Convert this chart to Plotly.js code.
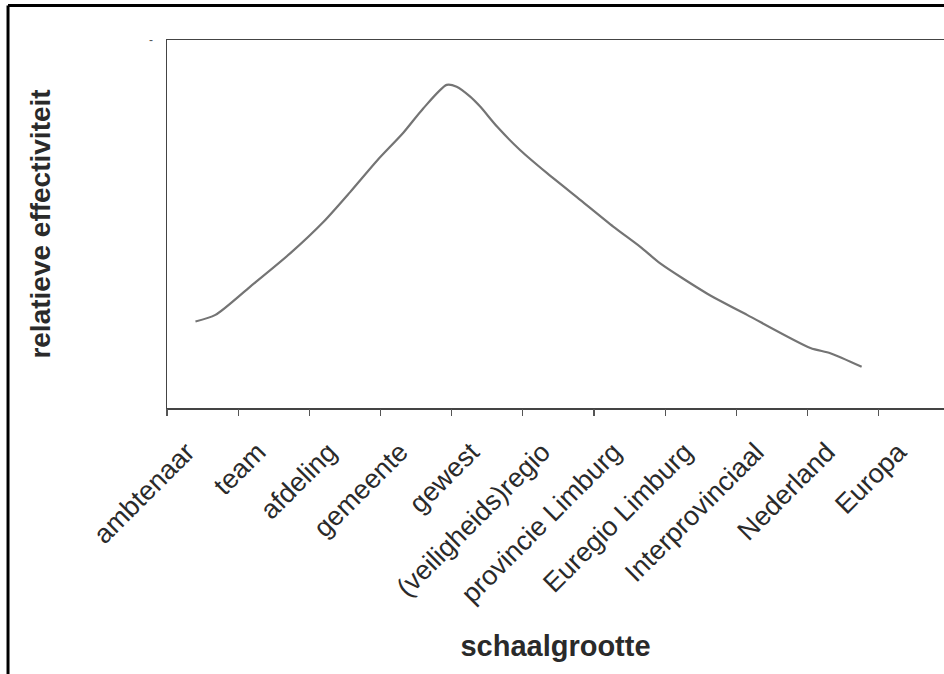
<!DOCTYPE html>
<html>
<head>
<meta charset="utf-8">
<script src="https://cdn.plot.ly/plotly-3.0.1.min.js"></script>
<style>
  html, body { margin: 0; padding: 0; background: #fff; }
  #chart { width: 944px; height: 674px; }
</style>
</head>
<body>
<div id="chart"></div>
<script>
// Category labels (x axis)
const categories = [
  "ambtenaar", "team", "afdeling", "gemeente", "gewest",
  "(veiligheids)regio", "provincie Limburg", "Euregio Limburg",
  "Interprovinciaal", "Nederland", "Europa"
];

// Curve (x in category units, y relative 0-100)
const curveX = [-0.10, 0.18, 0.67, 1.23, 1.70, 2.07, 2.45, 2.82, 3.10, 3.43, 3.57, 3.76, 3.90, 4.14, 4.46, 4.84, 5.31, 5.77, 6.15, 6.43, 7.08, 7.65, 8.54, 8.82, 9.26];
const curveY = [23.5, 25.3, 33.0, 42.0, 50.6, 58.6, 67.2, 74.8, 81.4, 87.8, 87.3, 84.6, 81.9, 76.4, 70.1, 63.8, 56.5, 49.3, 43.8, 39.3, 31.2, 25.3, 16.3, 14.9, 11.2];

const yTopLabel = ["-"];

const catIdx = categories.map((c, i) => i);
const boundaries = categories.map((c, i) => i - 0.5).concat([categories.length - 0.5]);
const xRange = [-0.5, 10.417];

const traces = [
  {
    x: curveX, y: curveY, type: "scatter", mode: "lines",
    line: { color: "#747474", width: 2.2, shape: "spline", smoothing: 0.7 },
    xaxis: "x", yaxis: "y", showlegend: false, hoverinfo: "skip"
  },
  {
    x: [null], y: [null], type: "scatter", mode: "lines",
    xaxis: "x2", yaxis: "y", showlegend: false, hoverinfo: "skip"
  }
];

const fontFam = "Liberation Sans, Arial, sans-serif";

const layout = {
  width: 944, height: 674,
  margin: { l: 167, r: 0, t: 40, b: 266, pad: 0 },
  paper_bgcolor: "#ffffff", plot_bgcolor: "#ffffff",
  showlegend: false,
  font: { family: fontFam, color: "#2a2a2a" },
  xaxis: {
    range: xRange, autorange: false,
    tickmode: "array", tickvals: catIdx, ticktext: categories,
    ticks: "", tickangle: -45, ticklabelstandoff: 16, ticklabelshift: -16,
    tickfont: { family: fontFam, size: 27, color: "#2a2a2a" },
    showline: true, mirror: true, linecolor: "#444444", linewidth: 1.5,
    showgrid: false, zeroline: false, automargin: false,
    title: { text: "schaalgrootte", font: { family: fontFam, size: 29, weight: "bold", color: "#2a2a2a" }, standoff: 28 }
  },
  xaxis2: {
    overlaying: "x", anchor: "y", side: "bottom",
    range: xRange, autorange: false,
    tickmode: "array", tickvals: boundaries,
    ticks: "outside", ticklen: 7, tickwidth: 1.2, tickcolor: "#555555",
    showticklabels: false, showline: false, showgrid: false, zeroline: false
  },
  yaxis: {
    range: [0, 100], autorange: false,
    tickmode: "array", tickvals: [100], ticktext: yTopLabel,
    ticks: "", ticklabelstandoff: 10,
    tickfont: { family: fontFam, size: 12, color: "#555555" },
    showline: true, linecolor: "#444444", linewidth: 1.5,
    showgrid: false, zeroline: false, automargin: false,
    title: { text: "relatieve effectiviteit", font: { family: fontFam, size: 28, weight: "bold", color: "#2a2a2a" }, standoff: 90 }
  },
  shapes: [
    { type: "line", xref: "paper", yref: "paper", x0: -0.2046, x1: 1.0, y0: 1.0938, y1: 1.0938,
      line: { color: "#000000", width: 3 } },
    { type: "line", xref: "paper", yref: "paper", x0: -0.2046, x1: -0.2046, y0: 1.0938, y1: -0.75,
      line: { color: "#000000", width: 3 } }
  ]
};

Plotly.newPlot("chart", traces, layout, { displayModeBar: false, staticPlot: true });
</script>
</body>
</html>
